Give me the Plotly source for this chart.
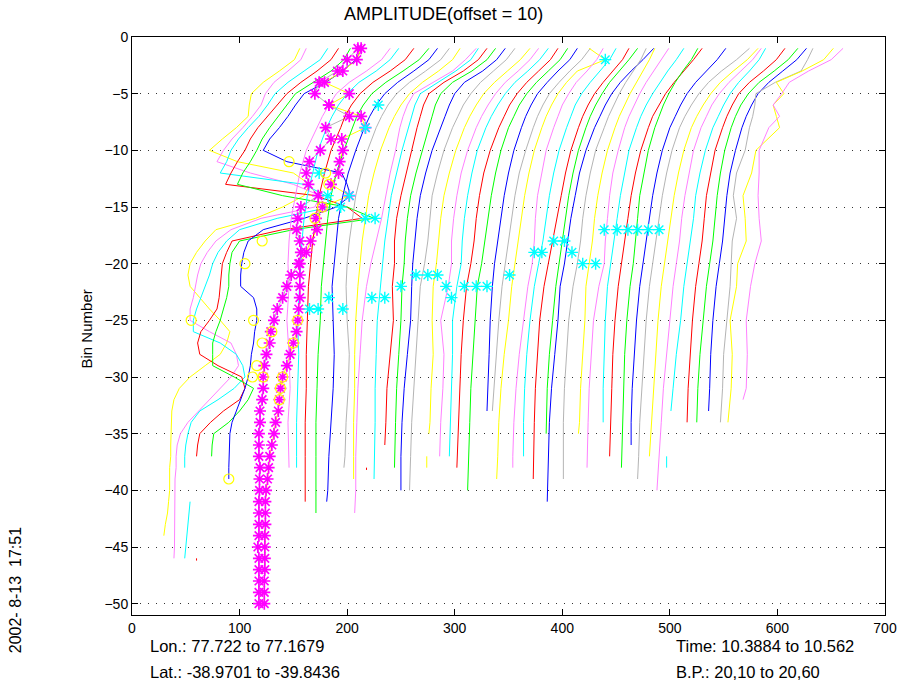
import plotly.graph_objects as go

OFFSET = 10
COLORS = ["#ffff00", "#ff80ff", "#00ffff", "#ff0000", "#00ff00", "#0000ff", "#b4b4b4"]
XTICKS = [0, 100, 200, 300, 400, 500, 600, 700]
YTICKS = [0, -5, -10, -15, -20, -25, -30, -35, -40, -45, -50]

# ---- left group (lines 0-7): amplitude at every bin from -1 downward (None = gap)
AMP_L0 = [156,151,137,122,111,109,108,97,84,72, 98,150,165,160,140,115,78,68,60,54,
          52,54,63,72,82,91,88,82,68,54, 44,39,37,36.5,36,36,36,35,35,35, 34,33,31,29.6]
AMP_L1 = [152,147,135,122,114,110,102,93,83,75, 69,100,140,165,160,110,82,68,60,54,
          51,49,47,44,44,62,82,87,89,82, 72,62,52,42,35,32,31,31,30,30, 30,30,30,30,29.5,29]
AMP_L2 = [162,155,140,125,113,106,98,88,79,72, 68,62,140,160,165,115,80,68,60,55,
          52,48,44,40,37,37,62,77,83,85, 75,60,43,35,32,30,29,29,None,None, 34,33,32,31,30,29]
AMP_L3 = [162,155,142,127,114,105,96,87,80,75, 68,62,57,141,170,184,110,63,58,54,
          53,52,51,49,42,34,31,33,50,72, 75,70,55,43,33,31,30]
AMP_L4 = [163,157,145,128,112,104,96,88,81,76, 70,63,58,100,160,185,110,60,53,51,
          50,50,48,45,42,38,35,35,35,55, 73,68,60,50,36,34.5,34]
AMP_L5 = [164,158,146,130,110,102,95,87,78,72, 94,145,150,153,140,110,72,58,54,52,
          51,51,63,66,66,64,63,61,60,58, 55,51,47,43,41,40.5,40.5,40,40]
AMP_L6 = [150,140,131,114,110,123,142,120,125,115, 105,102,104,113,97,94,93,96,97,95,
          88,84,80,75,72,69,68,65,63,62, 62,61,59,59,58,58,58,59,58.5,58.5,
          58,58,58,58,57,58,58,58,58,58]
AMP_L7 = [143,139,126,109,132,113,143,147,125,126, 123,122,115,132,107,101,102,96,92,86,
          86,86,86,85,84,83,80,77,74,70, 68,67,66,63.5,62,60,58,57,56,54.6,
          54,54,54,53.5,53.5,53.5,53.5,53,53,53]
LEFT_AMPS = [AMP_L0, AMP_L1, AMP_L2, AMP_L3, AMP_L4, AMP_L5, AMP_L6, AMP_L7]

# ---- lines 8-50: amplitude at shared vertex bins, then an end point
VERTEX_BINS = [-1,-2,-3,-4,-5,-6,-7,-8,-10,-12,-14,-16,-18,-20,-22,-25,-28,-31,-34,-37,-40]
RIGHT_AMPS = [
    [160,152,138,122,110,103,97,92,82,76,72,68,66,65,66,64,66,67,65,66],
    [158,150,137,121,110,102,96,91,83,78,73,70,68,67,66,64,65,64,63,63],
    [162,154,140,124,112,104,98,94,85,79,74,71,68,66,64,63,62,62,61,61,61],
    [166,157,142,126,113,105,99,95,87,80,75,72,70,68,66,65,63,62,61,61,61],
    [164,156,142,127,115,107,101,96,88,81,76,72,70,68,66,67,68,67,65,63,62],
    [165,157,143,128,116,108,102,97,89,83,78,75,72,70,69,70,72,71,69,68],
    [165,158,145,130,118,110,104,99,91,85,80,77,74,72,70,68,67,67,66,66],
    [170,160,148,130,112,106,102,99,95,90,86,82,77,72,68,64,62,60,59,58,58],
    [162,155,141,124,108,103,100,97,91,86,81,78,75,73,71,68,67,66,66,65],
    [160,152,138,120,106,101,98,95,90,85,80,76,74,74,72,73,70,67,66],
    [158,150,136,118,107,102,99,96,90,84,79,76,74,73,71,70,68,66,65,64],
    [157,149,136,119,110,105,101,97,89,83,78,75,73,71,70,69,66,63,61,60],
    [156,148,136,124,115,108,103,98,90,84,79,77,75,72,68,66,64,62,60,59],
    [160,151,139,127,117,110,104,99,91,85,80,77,75,73,70,69,70,68,67],
    [158,150,139,127,118,111,105,100,92,86,82,79,77,77,74,67,70,69,67],
    [157,149,138,126,117,110,104,99,91,86,82,79,77,76,72,68,68,67,66],
    [156,149,138,127,118,111,106,101,93,87,83,80,78,75,71,68,66,65,64,63],
    [155,148,137,126,117,110,105,100,93,88,84,81,78,75,71,69,67,65,64,63],
    [154,147,136,126,117,111,106,102,95,90,86,83,80,77,75,73,72,71],
    [156,148,137,127,118,112,107,103,96,90,86,83,80,77,74,71,69,67],
    [145,160,134,124,116,110,105,101,94,89,85,82,79,76,73,70,66,63,61,60],
    [148,142,133,123,116,110,106,102,95,91,87,85,84,82,78,74,70,67,65,64],
    [150,144,135,126,118,112,108,104,97,92,88,85,82,78,74,70,67,65,64],
    [152,146,137,128,120,114,109,105,98,93,89,85,81,77,73,69,67,65,64,63],
    [150,142,133,124,117,111,106,102,95,90,86,83,80,77,74,71,68,66,65],
    [155,145,134,124,116,110,105,100,92,86,82,78,75,72,68,66,63,60,58,57,56],
    [138,133,126,119,113,108,103,99,91,86,82,79,77,74,70,66,64,62,61,61],
    [136,131,125,119,113,108,103,99,92,87,83,80,78,75,72,71,69,67,66],
    [139,132,125,118,112,107,102,98,92,87,84,82,80,79,74,69,67,65,64,63],
    [143,136,128,121,114,108,103,99,92,88,84,81,78,75,72,70,69,68],
    [150,142,133,124,116,110,104,100,93,88,84,81,78,75,72,69,67,66,65],
    [136,130,122,115,109,104,100,96,90,86,82,80,78,76,73,70,68,67,66,65],
    [152,144,134,124,116,110,105,100,93,88,84,81,78,75,72,69,67,65,64],
    [164,152,138,126,117,110,104,99,92,87,83,80,77,74,71,68,66,64,62,61],
    [162,152,139,127,118,111,105,100,93,88,84,81,78,75,72,69,67,65,63],
    [155,147,136,125,116,109,104,99,92,88,84,81,79,76,73,70,67,64,62,60],
    [149,143,134,124,116,110,105,100,93,88,84,82,79,76,73,70,66,63],
    [157,149,137,124,114,108,103,99,92,88,84,82,80,77,74,71,69,67],
    [159,150,137,123,113,106,101,97,91,87,84,82,80,77,74,71,68,66],
    [157,148,135,122,112,106,101,97,91,86,83,81,79,76,73,70,68,67],
    [153,148,142,118,100,99,97,94,90,82,79,82,78,77,76,73,70,69],
    [162,153,133,109,116,106,109,112,90,86,78,80,81,73,72,66,68,67],
    [161,150,129,111,104,96,102,92,83,83,82,83,85,79,75,71,72,71],
]
END_BIN = [-38,-38,-41,-42,-41,-38,-39,-42,-39,-36,-38,-40,-40,-35,-37,-37,-38,-40,-33,-33,
           -39,-38,-37,-39,-35,-41,-39,-35,-38,-34,-37,-38,-36,-39,-37,-40,-33,-34,-34,-33,
           -34,-34,-32]
END_AMP = [66,63,61,61,61,67,66,57,65,65,64,60,58,66,66,65,62,62,70,65,
           59,64,64,63,65,56,61,65,63,68,64,65,64,60,61,58,61,66,65,66,
           67,64,68]

# short detached pieces: (line index, bins, amplitudes)
FRAG_LINE = [21, 44, 3, 17]
FRAG_BINS = [[-37, -38], [-37, -38], [-46, -46.2], [-38, -38.2]]
FRAG_AMPS = [[64, 64], [57, 57], [30, 30], [48, 48]]

# cyan star markers (x position, bin)
CYAN_X = [440,229,217,174,182,202,194,217,226,183,223,165,173,196,235,250,264,275,284,292,
          297,309,320,330,351,374,381,392,402,409,419,431,439,451,461,470,480,490]
CYAN_BIN = [-2,-6,-8,-12,-14,-14,-15,-16,-16,-23,-23,-24,-24,-24,-23,-22,-21,-21,-21,-22,
            -23,-22,-22,-22,-21,-19,-19,-18,-18,-19,-20,-20,-17,-17,-17,-17,-17,-17]

# yellow circle markers (x position, bin)
CIRC_X = [146,180,183,177,170,121,105,55,113,154,130,121,150,116,112,122,140,138,137,90]
CIRC_BIN = [-11,-12,-13,-15,-16,-18,-20,-25,-25,-25,-26,-27,-27,-29,-30,-30,-30,-31,-32,-39]

fig = go.Figure()


def add_line(xs, ys, color):
    fig.add_trace(go.Scatter(x=xs, y=ys, mode="lines", line=dict(color=color, width=1),
                             connectgaps=False, hoverinfo="skip"))


for i, amps in enumerate(LEFT_AMPS):
    bins = [-(k + 1) for k in range(len(amps))]
    xs = [None if a is None else a + OFFSET * i for a in amps]
    add_line(xs, bins, COLORS[i % 7])

for j, amps in enumerate(RIGHT_AMPS):
    i = j + 8
    eb, ea = END_BIN[j], END_AMP[j]
    pts = [(b, a) for b, a in zip(VERTEX_BINS, amps) if b > eb]
    pts.append((eb, ea))
    add_line([a + OFFSET * i for b, a in pts], [b for b, a in pts], COLORS[i % 7])

for li, fb, fa in zip(FRAG_LINE, FRAG_BINS, FRAG_AMPS):
    add_line([a + OFFSET * li for a in fa], fb, COLORS[li % 7])

for i in (6, 7):
    amps = LEFT_AMPS[i]
    fig.add_trace(go.Scatter(
        x=[a + OFFSET * i for a in amps], y=[-(k + 1) for k in range(len(amps))],
        mode="markers", marker=dict(symbol="asterisk-open", size=10, color="#ff00ff",
                                    line=dict(color="#ff00ff", width=1.7)),
        hoverinfo="skip"))

fig.add_trace(go.Scatter(x=CYAN_X, y=CYAN_BIN, mode="markers",
                         marker=dict(symbol="asterisk-open", size=10, color="#00ffff",
                                     line=dict(color="#00ffff", width=1.4)), hoverinfo="skip"))
fig.add_trace(go.Scatter(x=CIRC_X, y=CIRC_BIN, mode="markers",
                         marker=dict(symbol="circle-open", size=10, color="#ffff00",
                                     line=dict(color="#e6e600", width=1.2)), hoverinfo="skip"))

FONT = "Liberation Sans, Arial, Helvetica, sans-serif"
L, R, T, B = 132, 16, 37, 69
W, H = 909, 684
PW, PH = W - L - R, H - T - B


def px(xp):
    return (xp - L) / PW


def py(yp):
    return (H - B - yp) / PH


fig.update_layout(
    width=W, height=H, margin=dict(l=L, r=R, t=T, b=B, pad=0),
    paper_bgcolor="white", plot_bgcolor="white", showlegend=False,
    font=dict(family=FONT, size=14, color="black"),
    xaxis=dict(range=[0, 700], tickvals=XTICKS, ticks="inside", ticklen=6, tickcolor="black",
               showline=True, linecolor="black", linewidth=1, mirror="allticks",
               showgrid=False, zeroline=False, tickfont=dict(size=14)),
    yaxis=dict(range=[-51, 0], tickvals=YTICKS, ticks="inside", ticklen=6, tickcolor="black",
               showline=True, linecolor="black", linewidth=1, mirror="allticks",
               showgrid=True, gridcolor="#333333", gridwidth=1, griddash="1px,7px",
               zeroline=False, tickfont=dict(size=14)),
)

ann = [
    dict(text="AMPLITUDE(offset = 10)", x=px(447), y=py(14), xanchor="center", yanchor="middle", size=18),
    dict(text="Bin Number", x=px(86), y=py(329), xanchor="center", yanchor="middle", textangle=-90, size=15),
    dict(text="Lon.: 77.722 to 77.1679", x=px(148), y=py(646), xanchor="left", yanchor="middle", size=16.5),
    dict(text="Lat.: -38.9701 to -39.8436", x=px(148), y=py(672), xanchor="left", yanchor="middle", size=16.5),
    dict(text="Time: 10.3884 to 10.562", x=px(680), y=py(646), xanchor="left", yanchor="middle", size=16.5),
    dict(text="B.P.: 20,10 to 20,60", x=px(680), y=py(672), xanchor="left", yanchor="middle", size=16.5),
    dict(text="2002- 8-13  17:51", x=px(14), y=py(590), xanchor="center", yanchor="middle", textangle=-90, size=16),
]
for a in ann:
    s = a.pop("size")
    a.update(xref="paper", yref="paper", showarrow=False, font=dict(family=FONT, size=s, color="black"))
fig.update_layout(annotations=ann)

fig.write_html("out.html")
